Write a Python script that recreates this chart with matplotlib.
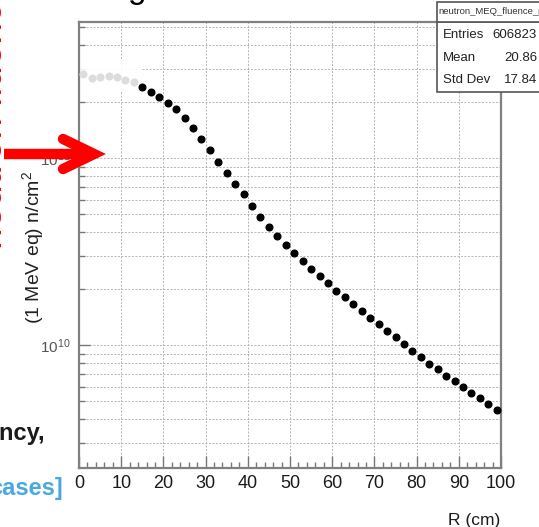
import matplotlib
matplotlib.use('Agg')
import matplotlib.pyplot as plt
from matplotlib.ticker import LogLocator, NullFormatter, FuncFormatter, MultipleLocator, FixedLocator
from matplotlib.patches import Rectangle
from matplotlib.lines import Line2D
import numpy as np

# ---------------- data ----------------
r_faint = [1, 3, 5, 7, 9, 11, 13]
fluence_faint = [2.81e11, 2.67e11, 2.72e11, 2.76e11, 2.72e11, 2.63e11, 2.54e11]

r_cm = [15, 17, 19, 21, 23, 25, 27, 29, 31, 33, 35, 37, 39, 41, 43, 45, 47, 49,
        51, 53, 55, 57, 59, 61, 63, 65, 67, 69, 71, 73, 75, 77, 79, 81, 83, 85,
        87, 89, 91, 93, 95, 97, 99]
fluence = [2.41e11, 2.26e11, 2.12e11, 1.98e11, 1.83e11, 1.64e11, 1.44e11, 1.26e11,
           1.10e11, 9.52e10, 8.34e10, 7.26e10, 6.40e10, 5.54e10, 4.86e10, 4.29e10,
           3.83e10, 3.44e10, 3.09e10, 2.81e10, 2.55e10, 2.34e10, 2.14e10, 1.95e10,
           1.80e10, 1.66e10, 1.52e10, 1.40e10, 1.29e10, 1.19e10, 1.10e10, 1.01e10,
           9.32e9, 8.59e9, 7.91e9, 7.41e9, 6.85e9, 6.42e9, 5.94e9, 5.52e9, 5.19e9,
           4.82e9, 4.49e9]

x_ticks = [0, 10, 20, 30, 40, 50, 60, 70, 80, 90, 100]
stats_labels = ['Entries', 'Mean', 'Std Dev']
stats_values = ['606823', '20.86', '17.84']
hist_name = 'neutron_MEQ_fluence_py'
y_label = '(1 MeV eq) n/cm$^2$'
x_label = 'R (cm)'

# ---------------- style ----------------
plt.rcParams['font.family'] = ['Liberation Sans', 'DejaVu Sans']
plt.rcParams['mathtext.fontset'] = 'custom'
plt.rcParams['mathtext.rm'] = 'Liberation Sans'
plt.rcParams['mathtext.it'] = 'Liberation Sans'
plt.rcParams['mathtext.bf'] = 'Liberation Sans'

W, H = 539, 527
fig = plt.figure(figsize=(W / 100, H / 100), dpi=100)


def P(x, y):
    return (x / W, 1 - y / H)


ax = fig.add_axes([79 / W, 1 - 468 / H, (501 - 79) / W, (468 - 22) / H])
ax.set_xlim(0, 100)
ax.set_yscale('log')
ax.set_ylim(2.2e9, 5.34e11)

grid_kw = dict(color='#b4b4b4', linestyle=(0, (2.0, 1.6)), linewidth=0.7)
ax.xaxis.set_major_locator(FixedLocator(x_ticks))
ax.xaxis.set_minor_locator(MultipleLocator(2))
ax.yaxis.set_major_locator(LogLocator(base=10))
ax.yaxis.set_minor_locator(LogLocator(base=10, subs=np.arange(2, 10)))
ax.yaxis.set_minor_formatter(NullFormatter())
ax.yaxis.set_major_formatter(FuncFormatter(lambda v, p: r'$10^{%d}$' % round(np.log10(v))))

ax.grid(True, which='major', axis='x', **grid_kw)
ax.grid(True, which='both', axis='y', **grid_kw)
ax.set_axisbelow(True)

ax.tick_params(axis='x', which='major', direction='in', length=9, width=1,
               color='#777777', labelsize=13, labelcolor='#1a1a1a', pad=5)
ax.tick_params(axis='x', which='minor', direction='in', length=4.5, width=1,
               color='#777777')
ax.tick_params(axis='y', which='major', direction='in', length=8, width=1,
               color='#777777', labelsize=11, labelcolor='#555555', pad=6)
ax.tick_params(axis='y', which='minor', direction='in', length=4, width=1,
               color='#777777')
for s in ax.spines.values():
    s.set_color('#808080')
    s.set_linewidth(1.6)

# faded region in upper left (overlay on slide)
ax.add_patch(Rectangle((0, 2.25e11), 14.6, 3.35e11 - 2.25e11, facecolor='white',
                       edgecolor='none', alpha=0.92, zorder=2))

ax.plot(r_faint, fluence_faint, linestyle='none', marker='o', markersize=4.8,
        color='#dcdcdc', zorder=3)
ax.plot(r_cm, fluence, linestyle='none', marker='o', markersize=4.8,
        color='black', zorder=3)

# axis labels
fig.text(*P(500, 513), x_label, ha='right', va='top', fontsize=12.5, color='#1a1a1a')
fig.text(*P(33, 247), y_label, rotation=90, ha='center', va='center',
         fontsize=14, color='#222222')

# stats box
fig.add_artist(Rectangle(P(437, 92), (570 - 437) / W, 70 / H, transform=fig.transFigure,
                         facecolor='white', edgecolor='#555555', lw=1.2))
fig.add_artist(Rectangle(P(437, 22), (570 - 437) / W, 20 / H, transform=fig.transFigure,
                         facecolor='white', edgecolor='#555555', lw=1.2))
fig.text(*P(438, 12), hist_name, ha='left', va='center', fontsize=6.8, color='#333333')
for i, (lab, val) in enumerate(zip(stats_labels, stats_values)):
    yy = [35, 58, 80][i]
    fig.text(*P(443, yy), lab, ha='left', va='center', fontsize=9.5, color='#222222')
    fig.text(*P(537, yy), val, ha='right', va='center', fontsize=9.5, color='#222222')

# slide fragments around the chart
fig.text(*P(137, -2), 'g', ha='center', va='baseline', fontsize=24, color='black')
fig.text(*P(10, 115), 'neutron fluence', rotation=90, ha='right', va='center',
         fontsize=28, color='red')
fig.text(*P(45, 440), 'ency,', ha='right', va='baseline', fontsize=17,
         fontweight='bold', color='#1a1a1a')
fig.text(*P(63, 495), 'cases]', ha='right', va='baseline', fontsize=17,
         fontweight='bold', color='#4aa8e0')

# red arrow
fig.add_artist(Line2D([P(4, 154)[0], P(88, 154)[0]], [P(4, 154)[1], P(88, 154)[1]],
                      transform=fig.transFigure, color='red', lw=7.5, solid_capstyle='butt'))
hx = [P(63, 139)[0], P(94, 154)[0], P(63, 169)[0]]
hy = [P(63, 139)[1], P(94, 154)[1], P(63, 169)[1]]
fig.add_artist(Line2D(hx, hy, transform=fig.transFigure, color='red', lw=7.5,
                      solid_joinstyle='miter', solid_capstyle='round'))

fig.savefig('out.png', dpi=100)
